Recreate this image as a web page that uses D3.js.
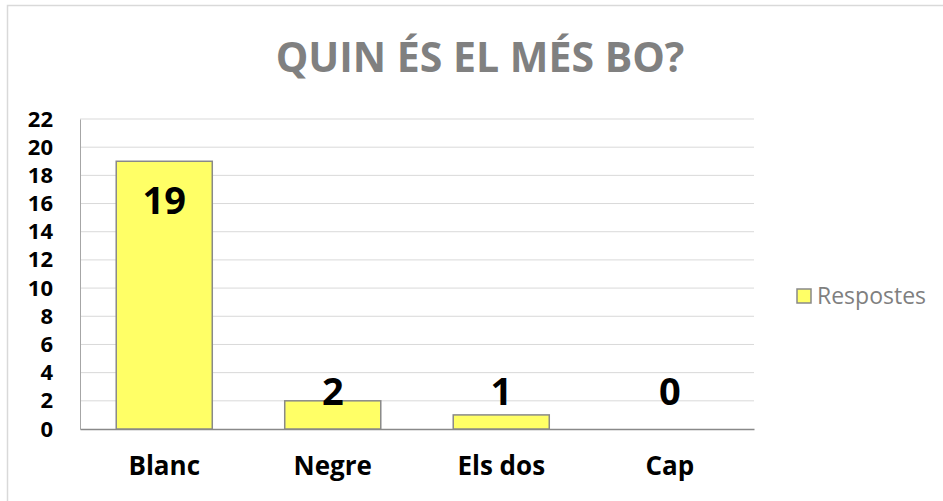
<!DOCTYPE html>
<html>
<head>
<meta charset="utf-8">
<script src="https://cdn.jsdelivr.net/npm/d3@7"></script>
<style>
  html, body { margin: 0; padding: 0; background: #fff; }
  svg { display: block; font-family: "Open Sans", sans-serif; }
</style>
</head>
<body>
<div id="chart"></div>
<script>
const categories = ["Blanc", "Negre", "Els dos", "Cap"]
const respostes = [19, 2, 1, 0]
const yTicks = [0, 2, 4, 6, 8, 10, 12, 14, 16, 18, 20, 22]
const title = "QUIN ÉS EL MÉS BO?"
const seriesName = "Respostes"

const width = 943, height = 501
const plot = { left: 80, top: 119, right: 754, bottom: 429 }

const svg = d3.select('#chart').append('svg')
    .attr('width', width)
    .attr('height', height)

// chart frame
svg.append('rect')
    .attr('x', 7.5).attr('y', 5.5)
    .attr('width', width + 10).attr('height', height + 10)
    .attr('fill', '#fff')
    .attr('stroke', '#d9d9d9')
    .attr('stroke-width', 1.5)

const x = d3.scaleBand()
    .domain(categories)
    .range([plot.left, plot.right])
    .paddingInner(0.43)
    .paddingOuter(0.215)

const y = d3.scaleLinear()
    .domain([0, 22])
    .range([plot.bottom, plot.top])

// gridlines
svg.append('g')
    .selectAll('line')
    .data(yTicks.filter(t => t > 0))
    .enter()
    .append('line')
    .attr('x1', plot.left).attr('x2', plot.right)
    .attr('y1', d => y(d)).attr('y2', d => y(d))
    .attr('stroke', '#d9d9d9')
    .attr('stroke-width', 1)

// y axis
const yAxis = svg.append('g')
    .attr('transform', `translate(${plot.left},0)`)
    .call(d3.axisLeft(y).tickValues(yTicks).tickSize(0).tickPadding(27))
yAxis.select('.domain').attr('stroke', '#a6a6a6').attr('stroke-width', 1)
yAxis.selectAll('text')
    .attr('fill', '#000')
    .style('font-size', '22px')
    .style('font-weight', 'bold')
    .style('font-family', '"Open Sans", sans-serif')

// x axis
const xAxis = svg.append('g')
    .attr('transform', `translate(0,${plot.bottom})`)
    .call(d3.axisBottom(x).tickSize(0).tickPadding(28))
xAxis.select('.domain').attr('stroke', '#898989').attr('stroke-width', 1.5)
xAxis.selectAll('text')
    .attr('fill', '#000')
    .style('font-size', '26px')
    .style('font-weight', 'bold')
    .style('font-family', '"Open Sans", sans-serif')

// bars
svg.append('g')
    .selectAll('rect')
    .data(respostes)
    .enter()
    .append('rect')
    .attr('x', (d, i) => x(categories[i]))
    .attr('y', d => y(d))
    .attr('width', x.bandwidth())
    .attr('height', d => y(0) - y(d))
    .attr('fill', '#ffff66')
    .attr('stroke', '#898989')
    .attr('stroke-width', d => d > 0 ? 1.5 : 0)

// data labels
svg.append('g')
    .selectAll('text')
    .data(respostes)
    .enter()
    .append('text')
    .attr('x', (d, i) => x(categories[i]) + x.bandwidth() / 2)
    .attr('y', d => Math.min(y(d) + 39, y(0) - 38))
    .attr('dy', '0.36em')
    .attr('text-anchor', 'middle')
    .style('font-size', '38px')
    .style('font-weight', 'bold')
    .attr('fill', '#000')
    .text(d => d)

// title
svg.append('text')
    .attr('x', 480)
    .attr('y', 72)
    .attr('text-anchor', 'middle')
    .style('font-size', '41px')
    .style('font-weight', 'bold')
    .attr('fill', '#808080')
    .text(title)

// legend
const legend = svg.append('g').attr('transform', 'translate(797,289)')
legend.append('rect')
    .attr('width', 14).attr('height', 14)
    .attr('fill', '#ffff66')
    .attr('stroke', '#898989')
    .attr('stroke-width', 1.5)
legend.append('text')
    .attr('x', 20)
    .attr('y', 15)
    .style('font-size', '23px')
    .attr('fill', '#7f7f7f')
    .text(seriesName)
</script>
</body>
</html>
